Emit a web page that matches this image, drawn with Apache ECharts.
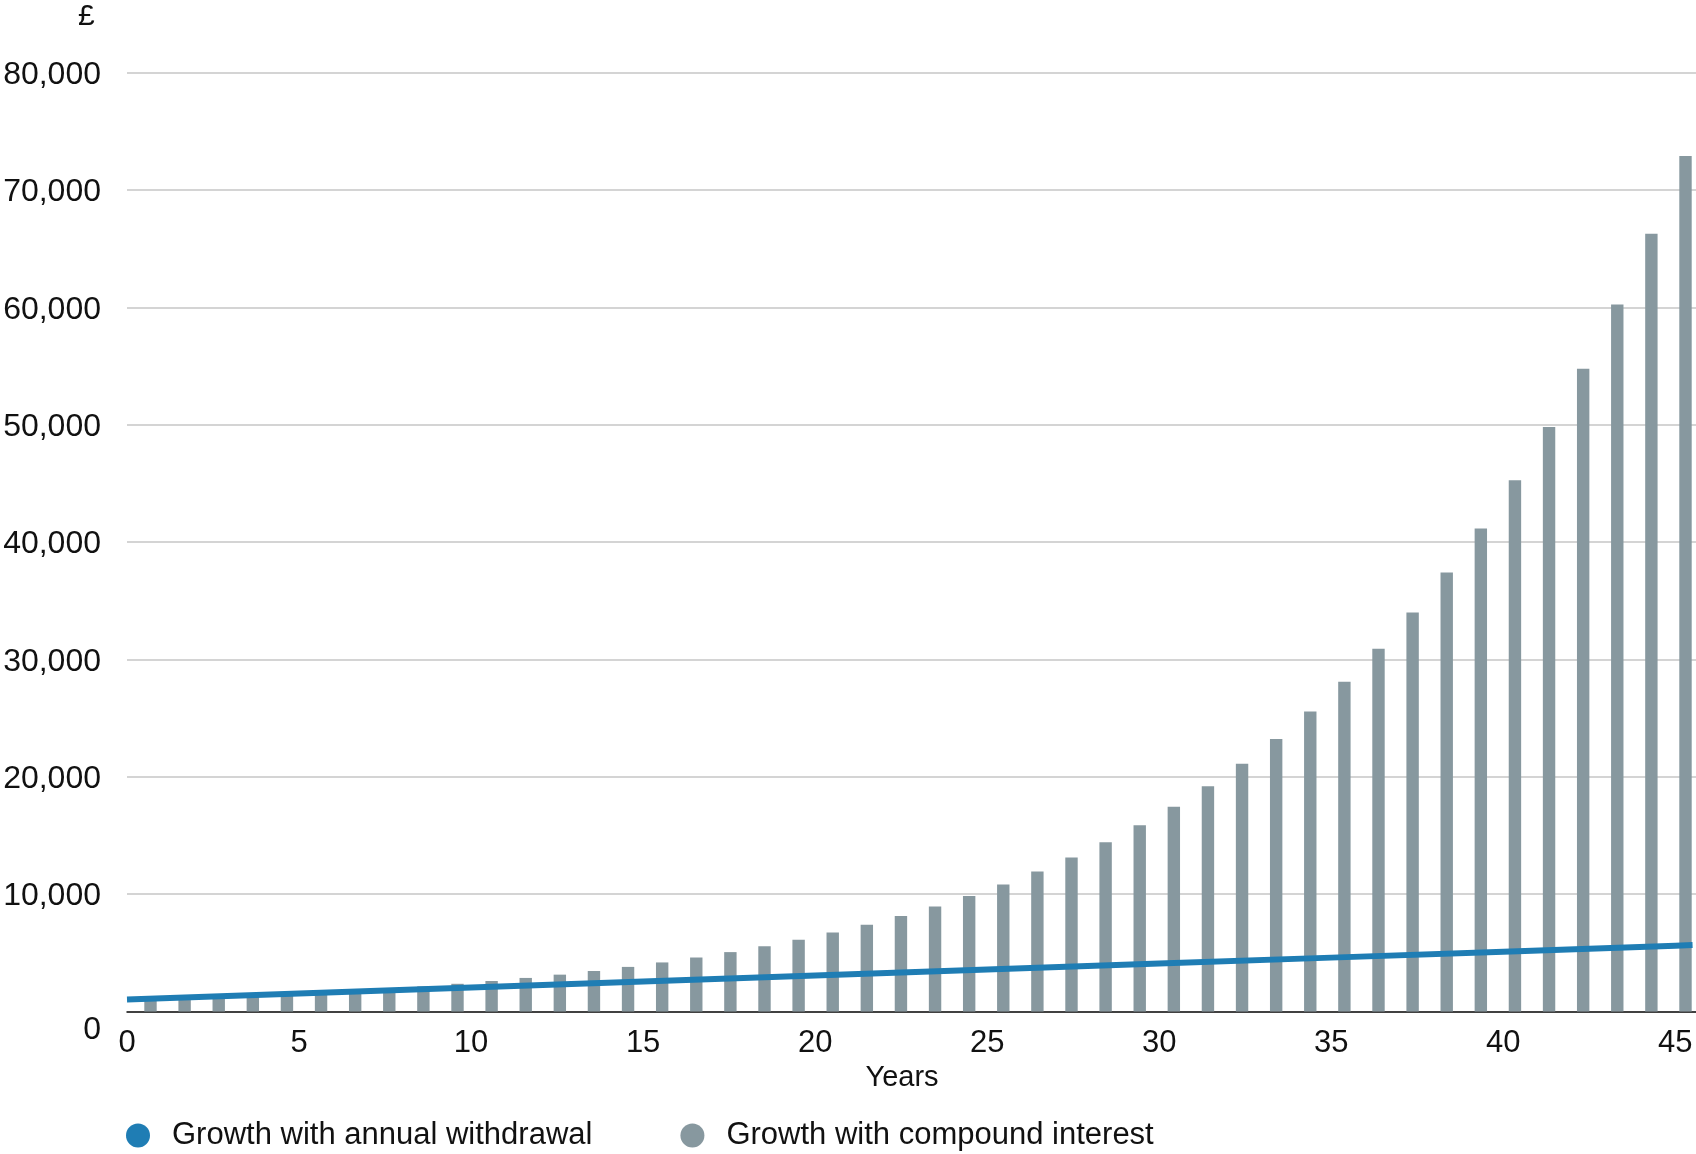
<!DOCTYPE html>
<html>
<head>
<meta charset="utf-8">
<title>Growth chart</title>
<script src="https://cdn.jsdelivr.net/npm/echarts@6/dist/echarts.min.js"></script>
<style>
  html, body { margin: 0; padding: 0; background: #fff; }
  #chart { width: 1696px; height: 1154px; }
</style>
</head>
<body>
<div id="chart"></div>
<script>
// years for each bar (one bar per year)
var barYears = [];
for (var i = 0; i <= 45; i++) barYears.push(String(i));

// compound interest values
var compoundValues = [
  1000, 1100, 1210, 1330, 1460, 1610, 1770, 1950, 2140, 2360,
  2600, 2860, 3140, 3450, 3800, 4180, 4600, 5060, 5560, 6120,
  6730, 7400, 8140, 8950, 9850, 10830, 11920, 13110, 14420, 15860,
  17450, 19190, 21110, 23220, 25550, 28100, 30910, 34000, 37400, 41140,
  45260, 49790, 54760, 60240, 66270, 72890
];

// annual withdrawal line: [year, value]
var withdrawalYears = [0, 5, 10, 15, 20, 25, 30, 35, 40, 45, 45.5];
var withdrawalValues = [1020, 1530, 2040, 2550, 3060, 3570, 4080, 4590, 5100, 5610, 5660];

var yTicks = [0, 10000, 20000, 30000, 40000, 50000, 60000, 70000, 80000];

var lineColor = '#1f7db4';
var barColor = '#87989f';
var font = 'Liberation Sans, Arial, sans-serif';

var chart = echarts.init(document.getElementById('chart'));

var linePoints = withdrawalYears.map(function (y, i) { return [y, withdrawalValues[i]]; });

chart.setOption({
  animation: false,
  textStyle: { fontFamily: font, color: '#111' },
  title: {
    text: '£',
    left: 78,
    top: 2,
    padding: 0,
    textStyle: { fontSize: 30, fontWeight: 'normal', color: '#111', fontFamily: font }
  },
  legend: {
    left: 121,
    top: 1115,
    itemWidth: 24,
    itemHeight: 24,
    itemGap: 88,
    icon: 'circle',
    textStyle: { fontSize: 31, color: '#111', fontFamily: font, padding: [0, 0, 0, 17] },
    data: ['Growth with annual withdrawal', 'Growth with compound interest']
  },
  grid: [
    { left: 127, right: 0, top: 72.5, bottom: 142.5 },
    // bars sit on their own grid, first and last bar on the edges
    { left: 150.5, right: 10.5, top: 72.5, bottom: 142.5 }
  ],
  xAxis: [
    {
      type: 'value',
      gridIndex: 0,
      min: 0,
      max: 45.6,
      interval: 5,
      name: 'Years',
      nameLocation: 'middle',
      nameGap: 49,
      nameTextStyle: { fontSize: 29, color: '#111', padding: [0, 19, 0, 0] },
      axisLine: { show: true, onZero: false, lineStyle: { color: '#111', width: 1.5 } },
      axisTick: { show: false },
      splitLine: { show: false },
      axisLabel: {
        fontSize: 31,
        color: '#111',
        margin: 16,
        showMaxLabel: false,
        formatter: function (v) { return v % 5 === 0 ? String(v) : ''; }
      }
    },
    {
      type: 'category',
      gridIndex: 1,
      boundaryGap: false,
      data: barYears,
      show: false
    }
  ],
  yAxis: [
    {
      type: 'value',
      gridIndex: 0,
      min: yTicks[0],
      max: yTicks[yTicks.length - 1],
      interval: 10000,
      axisLine: { show: false },
      axisTick: { show: false },
      splitLine: { lineStyle: { color: '#c6c6c6', width: 1.5 } },
      axisLabel: {
        fontSize: 32,
        color: '#111',
        margin: 26,
        padding: [5, 0, 0, 0],
        formatter: function (v) {
          if (v === 0) return '{z|0}';
          return v.toLocaleString('en-GB');
        },
        rich: { z: { fontSize: 32, color: '#111', padding: [32, 0, 0, 0] } }
      }
    },
    {
      type: 'value',
      gridIndex: 1,
      min: yTicks[0],
      max: yTicks[yTicks.length - 1],
      show: false,
      splitLine: { show: false }
    }
  ],
  series: [
    {
      name: 'Growth with compound interest',
      type: 'bar',
      xAxisIndex: 1,
      yAxisIndex: 1,
      barWidth: 12.4,
      itemStyle: { color: barColor },
      data: compoundValues,
      z: 2
    },
    {
      name: 'Growth with annual withdrawal',
      type: 'line',
      xAxisIndex: 0,
      yAxisIndex: 0,
      showSymbol: false,
      symbol: 'none',
      lineStyle: { color: lineColor, width: 6 },
      itemStyle: { color: lineColor },
      data: linePoints,
      z: 5
    }
  ]
});
</script>
</body>
</html>
